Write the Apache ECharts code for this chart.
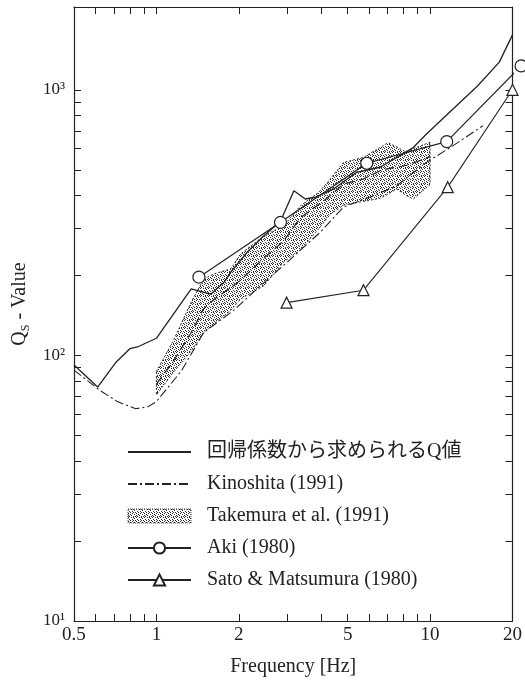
<!DOCTYPE html>
<html>
<head>
<meta charset="utf-8">
<script src="https://cdn.jsdelivr.net/npm/echarts@6/dist/echarts.min.js"></script>
<style>
html, body { margin: 0; padding: 0; background: #fff; }
#chart { width: 525px; height: 682px; }
</style>
</head>
<body>
<div id="chart"></div>
<script>
// 回帰係数から求められるQ値 (solid)
const regFreq = [0.5, 0.61, 0.71, 0.8, 0.86, 1.0, 1.34, 1.58, 1.77, 1.87, 2.15, 2.47, 2.84, 3.18, 3.5, 3.8, 4.44, 5.39, 6.56, 7.76, 8.68, 9.7, 12.1, 14.9, 17.9, 20];
const regQ = [92, 76, 94, 106, 108, 116, 178, 170, 189, 206, 245, 282, 320, 417, 388, 394, 423, 489, 511, 565, 606, 682, 845, 1034, 1271, 1610];

// Kinoshita (1991)
const kinFreq = [0.5, 0.62, 0.72, 0.84, 0.93, 1.0, 1.23, 1.49, 1.92, 2.33, 3.0, 3.97, 4.83, 6.04, 7.54, 9.7, 12.1, 15.6];
const kinQ = [88, 74, 67, 63, 64, 67, 87, 122, 148, 178, 224, 291, 362, 395, 435, 533, 615, 733];

// Takemura et al. (1991) band + mean
const takFreq = [1.0, 1.16, 1.34, 1.49, 1.63, 1.87, 2.03, 2.47, 2.92, 3.36, 3.92, 4.32, 4.83, 5.7, 6.55, 7.03, 7.54, 8.19, 8.68, 10];
const takUpper = [87, 115, 159, 194, 203, 212, 241, 282, 308, 366, 411, 462, 533, 556, 606, 632, 610, 582, 600, 635];
const takLower = [71, 87, 104, 122, 132, 148, 163, 183, 225, 250, 300, 340, 368, 380, 390, 405, 423, 400, 388, 440];
const takMean = [78, 96, 122, 150, 163, 180, 192, 232, 270, 330, 370, 400, 442, 461, 495, 505, 511, 520, 530, 560];

// Aki (1980)
const akiFreq = [1.43, 2.84, 5.87, 11.5, 21.5];
const akiQ = [197, 317, 529, 638, 1230];

// Sato & Matsumura (1980)
const satoFreq = [2.99, 5.71, 11.6, 20];
const satoQ = [158, 176, 430, 1000];

// axes
const xTicks = [0.6, 0.7, 0.8, 0.9, 1, 2, 3, 4, 5, 6, 7, 8, 9, 10];
const xLabels = [0.5, 1, 2, 5, 10, 20];
const yTicks = [20, 30, 40, 50, 60, 70, 80, 90, 100, 200, 300, 400, 500, 600, 700, 800, 900, 1000];
const yLabels = [10, 100, 1000];
const yLabelText = { 10: '10¹', 100: '10²', 1000: '10³' };

const names = ['回帰係数から求められるQ値', 'Kinoshita (1991)', 'Takemura et al. (1991)', 'Aki (1980)', 'Sato & Matsumura (1980)'];

const SERIF = "'Liberation Serif', 'DejaVu Serif', 'Noto Sans CJK JP', serif";
const INK = '#222';

function zip(a, b) {
  return a.map((v, i) => [v, b[i]]);
}

// stipple pattern for the Takemura band
const dots = document.createElement('canvas');
dots.width = 8;
dots.height = 8;
const dctx = dots.getContext('2d');
dctx.fillStyle = '#2a2a2a';
[[0, 0], [3, 0], [5, 0], [6, 1], [1, 2], [4, 2], [2, 3], [7, 3], [0, 4], [4, 4], [2, 5], [6, 5],
 [0, 6], [3, 6], [5, 7], [1, 7], [7, 7], [5, 3]].forEach(p => {
  dctx.fillRect(p[0], p[1], 1, 1);
});
const stipple = { image: dots, repeat: 'repeat' };

const axisLine = { onZero: false, lineStyle: { color: INK, width: 1.2 } };
const tickStyle = { color: INK, width: 1 };

// polygon between upper and lower Takemura bounds
function renderBand(params, api) {
  if (params.dataIndex !== 0) return null;
  const pts = takFreq.map((f, i) => api.coord([f, takUpper[i]]));
  for (let i = takFreq.length - 1; i >= 0; i--) {
    pts.push(api.coord([takFreq[i], takLower[i]]));
  }
  return {
    type: 'polygon',
    shape: { points: pts },
    style: { fill: stipple, stroke: '#333', lineWidth: 1, lineDash: [2, 2] }
  };
}

const myChart = echarts.init(document.getElementById('chart'));
myChart.setOption({
  animation: false,
  backgroundColor: '#fff',
  grid: { left: 71, right: 12, top: 7, bottom: 60, containLabel: false },
  legend: {
    orient: 'vertical',
    left: 122,
    top: 437,
    itemWidth: 63,
    itemHeight: 14,
    itemGap: 12,
    selectedMode: false,
    textStyle: { fontFamily: SERIF, fontSize: 20, color: INK, lineHeight: 20, padding: [0, 0, 0, 11] },
    data: [
      { name: names[0], itemStyle: { opacity: 0 } },
      { name: names[1], itemStyle: { opacity: 0 } },
      { name: names[2], icon: 'rect', itemStyle: { color: stipple, borderColor: '#444', borderWidth: 1, borderType: 'dotted' } },
      { name: names[3] },
      { name: names[4] }
    ]
  },
  xAxis: [
    {
      type: 'log',
      logBase: 10,
      min: 0.5,
      max: 20,
      position: 'bottom',
      axisLine: axisLine,
      axisTick: { inside: true, length: 7, customValues: xTicks, lineStyle: tickStyle },
      axisLabel: {
        customValues: xLabels,
        formatter: v => String(v),
        fontFamily: SERIF,
        fontSize: 19,
        color: INK,
        margin: 5
      },
      splitLine: { show: false },
      name: 'Frequency [Hz]',
      nameLocation: 'middle',
      nameGap: 36,
      nameTextStyle: { fontFamily: SERIF, fontSize: 20, color: INK }
    },
    {
      type: 'log',
      logBase: 10,
      min: 0.5,
      max: 20,
      position: 'top',
      axisLine: axisLine,
      axisTick: { inside: true, length: 7, customValues: xTicks, lineStyle: tickStyle },
      axisLabel: { show: false },
      splitLine: { show: false }
    }
  ],
  yAxis: [
    {
      type: 'log',
      logBase: 10,
      min: 10,
      max: 2050,
      position: 'left',
      axisLine: axisLine,
      axisTick: { inside: true, length: 7, customValues: yTicks, lineStyle: tickStyle },
      axisLabel: {
        customValues: yLabels,
        formatter: v => yLabelText[v] || '',
        fontFamily: SERIF,
        fontSize: 17,
        color: INK,
        margin: 9
      },
      splitLine: { show: false },
      name: 'Q{s|S} - Value',
      nameLocation: 'middle',
      nameGap: 40,
      nameTextStyle: {
        fontFamily: SERIF,
        fontSize: 20,
        color: INK,
        lineHeight: 24,
        padding: [0, 0, 0, 20],
        rich: {
          s: { fontFamily: SERIF, fontSize: 12, color: INK, lineHeight: 10, verticalAlign: 'bottom' }
        }
      }
    },
    {
      type: 'log',
      logBase: 10,
      min: 10,
      max: 2050,
      position: 'right',
      axisLine: axisLine,
      axisTick: { inside: true, length: 7, customValues: yTicks, lineStyle: tickStyle },
      axisLabel: { show: false },
      splitLine: { show: false }
    }
  ],
  series: [
    {
      name: 'band',
      type: 'custom',
      renderItem: renderBand,
      data: zip(takFreq, takUpper),
      encode: { x: 0, y: 1 },
      silent: true,
      z: 1
    },
    {
      name: names[2],
      type: 'line',
      data: zip(takFreq, takMean),
      symbol: 'none',
      color: INK,
      lineStyle: { color: INK, width: 1.2, type: [9, 5] },
      z: 2
    },
    {
      name: names[1],
      type: 'line',
      data: zip(kinFreq, kinQ),
      symbol: 'none',
      color: INK,
      lineStyle: { color: INK, width: 1.1, type: [9, 3, 2, 3] },
      z: 3
    },
    {
      name: names[0],
      type: 'line',
      data: zip(regFreq, regQ),
      symbol: 'none',
      color: INK,
      lineStyle: { color: INK, width: 1.3 },
      z: 4
    },
    {
      name: names[3],
      type: 'line',
      data: zip(akiFreq, akiQ),
      symbol: 'circle',
      symbolSize: 12,
      clip: false,
      color: INK,
      itemStyle: { color: '#fff', borderColor: INK, borderWidth: 1.2 },
      lineStyle: { color: INK, width: 1.2 },
      z: 5
    },
    {
      name: names[4],
      type: 'line',
      data: zip(satoFreq, satoQ),
      symbol: 'triangle',
      symbolSize: 11,
      clip: false,
      color: INK,
      itemStyle: { color: '#fff', borderColor: INK, borderWidth: 1.2 },
      lineStyle: { color: INK, width: 1.1 },
      z: 5
    }
  ]
});
</script>
</body>
</html>
